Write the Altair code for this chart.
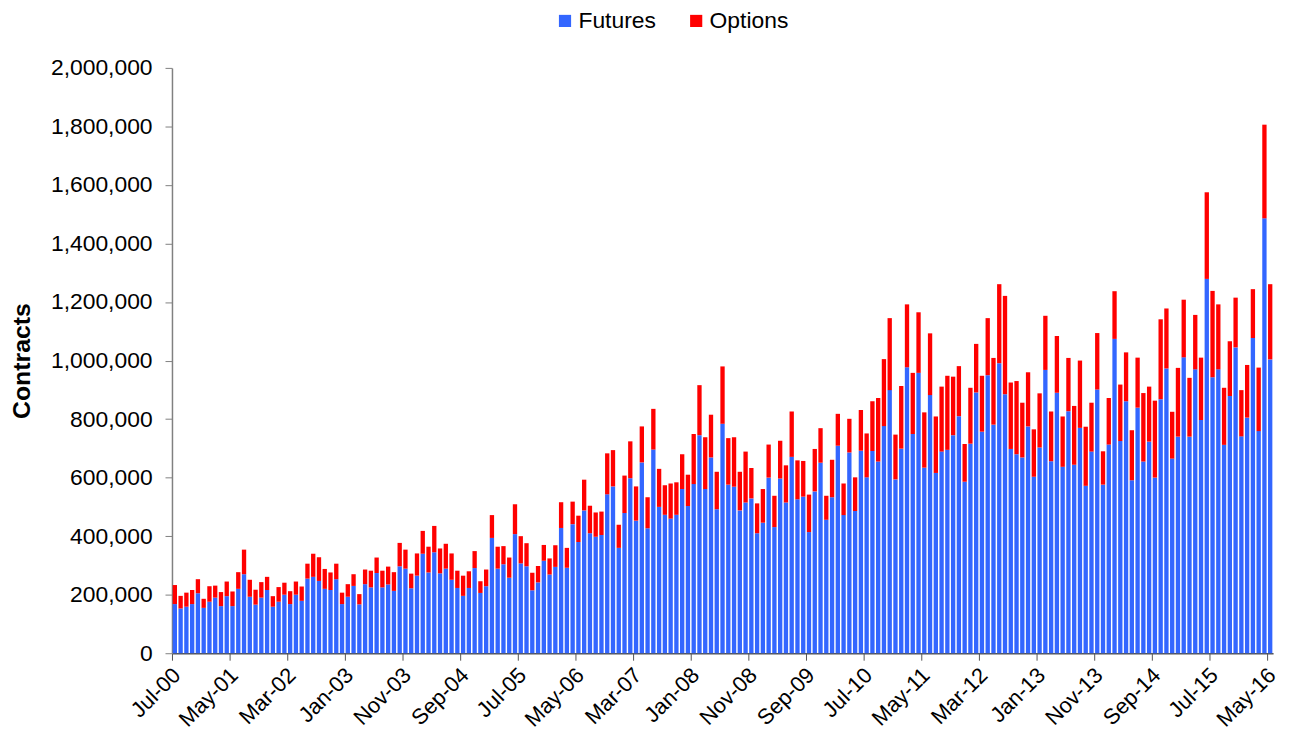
import altair as alt
import pandas as pd

# Monthly categories Jul-00 .. May-16 (191 months)
MONTHS = list(pd.date_range("2000-07-01", "2016-05-01", freq="MS").strftime("%b-%y"))

TICK_LABELS = ["Jul-00", "May-01", "Mar-02", "Jan-03", "Nov-03", "Sep-04", "Jul-05",
               "May-06", "Mar-07", "Jan-08", "Nov-08", "Sep-09", "Jul-10", "May-11",
               "Mar-12", "Jan-13", "Nov-13", "Sep-14", "Jul-15", "May-16"]

SERIES = ["Futures", "Options"]
COLORS = ["#3366FF", "#FF0000"]

# values in thousands of contracts
FUTURES_K = [
    168, 153, 159, 168, 205, 155, 176, 190, 161, 195,
    161, 220, 270, 193, 166, 190, 216, 159, 176, 200,
    168, 200, 179, 255, 261, 247, 220, 216, 253, 168,
    193, 230, 167, 236, 225, 274, 225, 235, 213, 297,
    289, 222, 265, 340, 276, 345, 273, 289, 251, 223,
    196, 223, 291, 206, 229, 394, 289, 304, 258, 407,
    307, 297, 215, 242, 316, 269, 295, 428, 292, 441,
    380, 488, 410, 398, 404, 543, 570, 360, 479, 598,
    453, 652, 427, 696, 500, 473, 460, 473, 561, 503,
    578, 745, 561, 669, 492, 784, 576, 569, 488, 515,
    529, 410, 446, 600, 431, 597, 515, 671, 526, 535,
    414, 553, 651, 456, 533, 709, 472, 686, 486, 692,
    601, 691, 655, 776, 899, 594, 699, 977, 749, 958,
    634, 882, 616, 689, 695, 745, 810, 586, 716, 891,
    757, 950, 781, 991, 885, 698, 680, 669, 775, 603,
    703, 968, 656, 890, 637, 827, 644, 770, 572, 689,
    901, 576, 713, 1074, 725, 861, 591, 839, 655, 723,
    600, 868, 973, 665, 740, 1011, 740, 970, 797, 1279,
    943, 970, 712, 879, 1045, 741, 805, 1077, 759, 1486,
    1004,
]

OPTIONS_K = [
    65, 43, 48, 48, 48, 31, 53, 41, 48, 50,
    50, 57, 84, 58, 51, 53, 45, 36, 50, 41,
    44, 45, 49, 51, 79, 81, 68, 60, 53, 39,
    43, 40, 35, 50, 57, 53, 57, 61, 64, 80,
    65, 50, 76, 78, 88, 90, 85, 85, 90, 59,
    69, 57, 58, 40, 57, 78, 75, 62, 69, 102,
    93, 79, 60, 56, 54, 55, 74, 88, 68, 77,
    90, 105, 94, 83, 80, 140, 124, 79, 128, 126,
    117, 123, 106, 139, 130, 101, 120, 111, 119, 107,
    171, 171, 177, 146, 128, 196, 159, 169, 132, 174,
    104, 102, 115, 113, 107, 129, 127, 155, 133, 122,
    128, 145, 118, 82, 128, 109, 108, 115, 115, 139,
    150, 170, 217, 229, 246, 153, 214, 215, 209, 207,
    189, 211, 193, 222, 253, 200, 171, 129, 191, 166,
    191, 195, 228, 270, 336, 227, 250, 187, 185, 162,
    185, 185, 170, 194, 172, 182, 201, 230, 202, 167,
    193, 114, 159, 163, 193, 167, 171, 171, 234, 188,
    263, 273, 205, 160, 235, 197, 201, 186, 213, 296,
    295, 222, 195, 187, 170, 158, 180, 167, 217, 320,
    257,
]

Y_TICKS = [0, 200000, 400000, 600000, 800000, 1000000,
           1200000, 1400000, 1600000, 1800000, 2000000]

rows = []
for m, f, o in zip(MONTHS, FUTURES_K, OPTIONS_K):
    rows.append({"month": m, "series": "Futures", "ord": 0, "value": f * 1000})
    rows.append({"month": m, "series": "Options", "ord": 1, "value": o * 1000})
df = pd.DataFrame(rows)

FONT = "Liberation Sans"

chart = alt.Chart(df).mark_bar().encode(
    x=alt.X("month:O", sort=MONTHS,
            scale=alt.Scale(paddingInner=0.25, paddingOuter=0.125),
            axis=alt.Axis(values=TICK_LABELS, bandPosition=0, labelAngle=-45,
                          labelAlign="right", labelBaseline="middle",
                          labelFont=FONT, labelFontSize=22, labelColor="#000000",
                          labelPadding=11, labelOffset=2,
                          tickSize=7, tickColor="#555555", domainColor="#555555",
                          domainWidth=1.5, labelOverlap=False, grid=False),
            title=None),
    y=alt.Y("value:Q", stack="zero",
            scale=alt.Scale(domain=[0, 2000000], nice=False),
            axis=alt.Axis(values=Y_TICKS, format=",.0f", labelFont=FONT, labelFontSize=23,
                          labelColor="#000000", labelPadding=13, tickSize=7,
                          tickColor="#808080", domainColor="#808080", domainWidth=1.5,
                          grid=False, titleFont=FONT, titleFontSize=25,
                          titleFontWeight="bold", titleColor="#000000",
                          titleX=-151, titleY=294.5, titleAlign="center",
                          titleBaseline="middle", titleAngle=-90),
            title="Contracts"),
    color=alt.Color("series:N",
                    scale=alt.Scale(domain=SERIES, range=COLORS),
                    legend=alt.Legend(title=None, orient="none", legendX=384, legendY=-59,
                                      direction="horizontal", symbolType="square",
                                      symbolSize=150, symbolStrokeWidth=0,
                                      labelFont=FONT, labelFontSize=23,
                                      labelColor="#000000", labelOffset=2,
                                      columnPadding=29, padding=0)),
    order=alt.Order("ord:Q", sort="ascending"),
).properties(
    width=1108,
    height=589,
    background="#ffffff",
    autosize=alt.AutoSizeParams(type="none"),
    padding={"left": 165, "top": 58, "right": 12, "bottom": 79},
).configure_view(stroke=None)

chart.save("out.html", embed_options={"renderer": "svg", "actions": False})
